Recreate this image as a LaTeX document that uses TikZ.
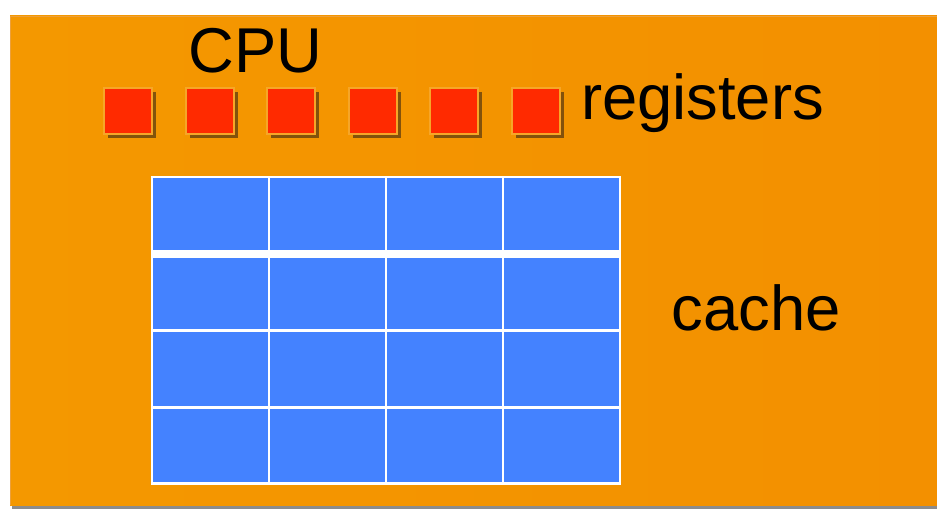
\documentclass[tikz,border=0pt]{standalone}
\usepackage{fontspec}
\setmainfont{Liberation Sans}
\usepackage{xcolor}
\usetikzlibrary{shadows}

\definecolor{chiporange}{RGB}{244,152,0}
\definecolor{chiporangedark}{RGB}{243,144,0}
\definecolor{chipedge}{RGB}{236,160,60}
\definecolor{regred}{RGB}{255,42,0}
\definecolor{regedge}{RGB}{246,166,40}
\definecolor{cacheblue}{RGB}{68,130,255}

\tikzset{
    register/.style={draw=regedge, line width=1.5pt, fill=regred,
        minimum width=36pt, minimum height=34pt, inner sep=0pt,
        drop shadow={shadow xshift=3pt, shadow yshift=-3pt,
            fill=black!70!brown, opacity=0.6}},
    cacheline/.style={fill=cacheblue, minimum width=86.25pt, inner sep=0pt},
    label/.style={inner sep=0pt, anchor=base, font=\fontsize{47.5}{56}\selectfont},
}

\begin{document}
\begin{tikzpicture}[x=0.75pt,y=-0.75pt]
        \useasboundingbox (0,0) rectangle (937,509);

        % chip
        \fill[black!45] (12,20) rectangle (937,509);
        \shade[left color=chiporange, right color=chiporangedark] (10,16) rectangle (937,505);
        \draw[chipedge, line width=0.75pt] (937,16.4) -- (10.4,16.4) -- (10.4,505);

        % CPU
        \node [label] (cpu) at (255.5,73) {CPU};

        % registers
        \foreach \i in {0,...,5}
            \node [register] (reg\i) at (128+81.6*\i,111) {};
        \node [label] (registers) at (702.5,120) {registers};

        % cache
        \fill[white] (151,176) rectangle (620.5,484.5);
        \foreach \r/\y/\h in {1/214/72, 2/293.5/71, 3/369/74, 4/445.5/73}
            \foreach \c in {1,...,4}
                \node [cacheline, minimum height=\h*0.75pt] (cell\r\c) at (93.5+117*\c,\y) {};
        \node [label] (cache) at (756,330) {cache};
\end{tikzpicture}
\end{document}
